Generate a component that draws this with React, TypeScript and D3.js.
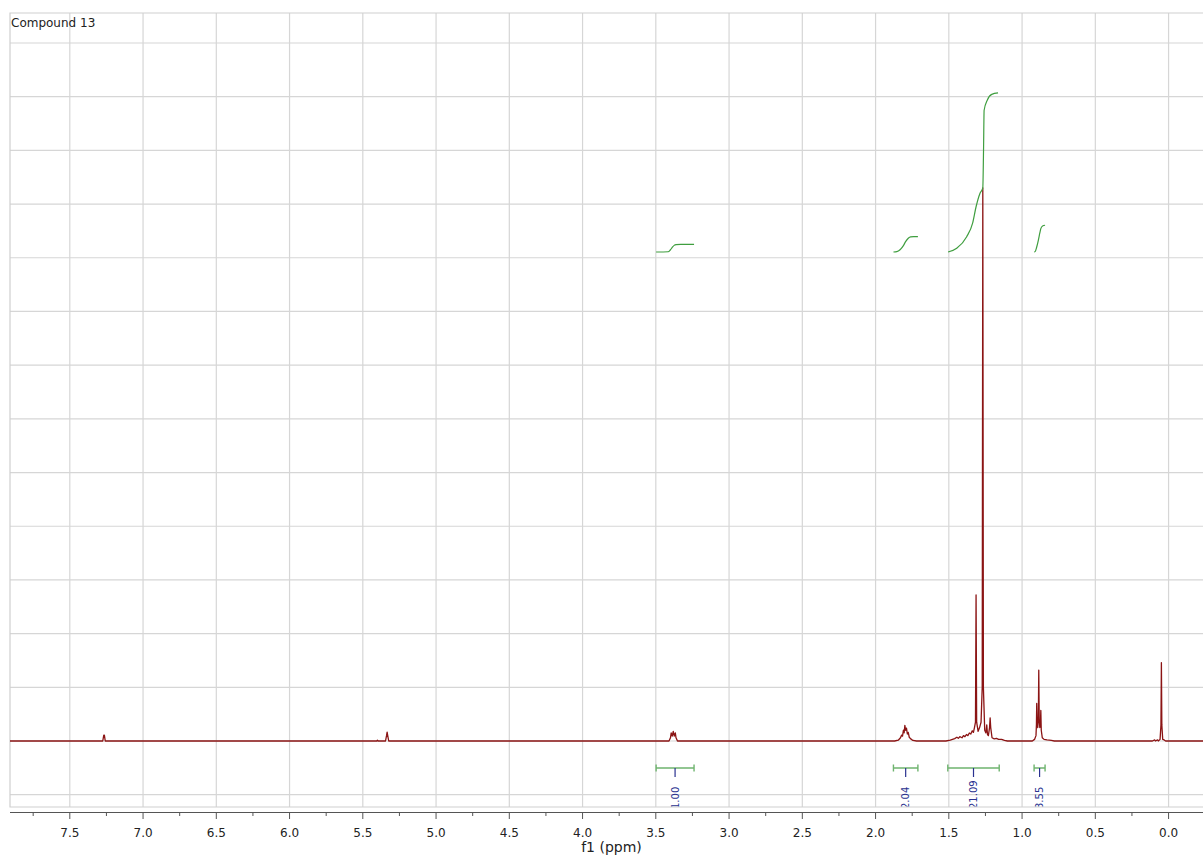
import React, { useEffect, useRef } from 'react';
import * as d3 from 'd3';

// chart texts
const title = "Compound 13";
const axisLabel = "f1 (ppm)";

// axis ticks (ppm)
const majorTicks = [7.5, 7.0, 6.5, 6.0, 5.5, 5.0, 4.5, 4.0, 3.5, 3.0, 2.5, 2.0, 1.5, 1.0, 0.5, 0.0];
const minorTicks = [7.75, 7.25, 6.75, 6.25, 5.75, 5.25, 4.75, 4.25, 3.75, 3.25, 2.75, 2.25, 1.75, 1.25, 0.75, 0.25];
const gridRows = [-10, 0, 10, 20, 30, 40, 50, 60, 70, 80, 90, 100, 110, 120, 130];

// spectrum trace, [ppm, intensity]
const spectrum: [number, number][] = [
  [7.915, 0], [7.275, 0], [7.268, 1.1], [7.264, 1.1], [7.258, 0],
  [5.405, 0], [5.4, 0.15], [5.395, 0],
  [5.345, 0], [5.338, 1.0], [5.334, 1.65], [5.33, 1.0], [5.323, 0],
  [3.41, 0], [3.4, 0.6], [3.395, 1.5], [3.388, 0.9], [3.381, 1.8], [3.374, 0.9], [3.367, 1.5], [3.362, 0.6], [3.352, 0],
  [1.87, 0], [1.845, 0.15], [1.83, 0.6], [1.822, 1.1], [1.816, 0.9], [1.81, 2.0], [1.805, 1.5], [1.8, 2.9],
  [1.795, 2.0], [1.789, 2.4], [1.783, 1.3], [1.777, 1.6], [1.77, 0.7], [1.76, 0.4], [1.745, 0.1], [1.72, 0],
  [1.52, 0], [1.49, 0.15], [1.46, 0.45], [1.445, 0.7], [1.435, 0.5], [1.425, 0.8], [1.41, 0.6], [1.4, 1.0],
  [1.39, 0.8], [1.38, 1.2], [1.37, 1.0], [1.36, 1.5], [1.35, 1.3], [1.34, 1.9], [1.332, 1.6], [1.325, 2.5],
  [1.318, 3.5], [1.314, 27.2], [1.31, 3.5], [1.3, 1.8], [1.29, 2.5], [1.28, 3.5], [1.272, 10], [1.268, 103],
  [1.264, 10], [1.255, 2.0], [1.247, 1.5], [1.241, 3.0], [1.236, 1.2], [1.23, 1.0], [1.222, 2.5], [1.218, 4.3],
  [1.214, 2.5], [1.205, 0.6], [1.19, 0.4], [1.175, 0.5], [1.16, 0.3], [1.14, 0.3], [1.12, 0.1], [1.1, 0],
  [0.93, 0], [0.915, 0.3], [0.905, 1.0], [0.902, 3.0], [0.9, 7.0], [0.897, 3.5], [0.893, 2.5], [0.889, 4],
  [0.886, 13.2], [0.883, 4], [0.879, 2.5], [0.875, 3.0], [0.872, 5.7], [0.869, 2.0], [0.862, 0.6], [0.85, 0.3],
  [0.83, 0.2], [0.8, 0.1], [0.78, 0],
  [0.11, 0], [0.095, 0.2], [0.09, 0], [0.075, 0.2], [0.07, 0], [0.058, 0.3], [0.052, 3], [0.049, 14.6],
  [0.046, 3], [0.04, 0.3], [0.03, 0.2], [0.02, 0], [-0.235, 0],
];

// integrals
const integralFrom = [3.498, 1.878, 1.507, 0.918];
const integralTo = [3.239, 1.711, 1.156, 0.843];
const integralLabels = ["1.00", "2.04", "21.09", "3.55"];
const integralCurve1: [number, number][] = [
  [3.498, 0], [3.416, 0.03], [3.4, 0.3], [3.388, 0.6], [3.375, 0.88], [3.362, 0.98], [3.33, 1.0], [3.239, 1.0],
];
const integralCurve2: [number, number][] = [
  [1.878, 0], [1.855, 0.05], [1.833, 0.3], [1.81, 0.85], [1.795, 1.37], [1.775, 1.85], [1.761, 2.0], [1.74, 2.04], [1.711, 2.04],
];
const integralCurve3: [number, number][] = [
  [1.505, 0], [1.446, 0.49], [1.378, 2.03], [1.337, 3.85], [1.314, 6.0], [1.287, 7.8], [1.268, 8.5],
  [1.263, 13.5], [1.259, 18.8], [1.237, 20.16], [1.207, 20.9], [1.164, 21.09],
];
const integralCurve4: [number, number][] = [
  [0.918, 0], [0.911, 0.05], [0.901, 0.6], [0.889, 1.55], [0.878, 2.6], [0.872, 3.1], [0.86, 3.45], [0.843, 3.55],
];
const integralCurves = [integralCurve1, integralCurve2, integralCurve3, integralCurve4];

const App = () => {
  const ref = useRef<SVGSVGElement>(null);

  useEffect(() => {
    const svg = d3.select(ref.current);
    svg.selectAll("*").remove();

    const width = 1203;
    const height = 858;
    const frame = { left: 10, top: 13, right: 1203, bottom: 807 };
    const axisY = 812.5;
    const font = "'DejaVu Sans', Verdana, sans-serif";

    svg.attr("width", width).attr("height", height);

    const x = d3.scaleLinear().domain([7.915, -0.235]).range([9, 1203]);
    const y = d3.scaleLinear().domain([0, 130]).range([741, 43]);
    const yInt = d3.scaleLinear().domain([0, 22]).range([252, 86.1]);

    const defs = svg.append("defs");
    defs.append("clipPath").attr("id", "plotClip")
      .append("rect")
      .attr("x", frame.left).attr("y", frame.top)
      .attr("width", frame.right - frame.left).attr("height", frame.bottom - frame.top);
    defs.append("clipPath").attr("id", "labelClip")
      .append("rect")
      .attr("x", frame.left).attr("y", frame.top)
      .attr("width", frame.right - frame.left).attr("height", frame.bottom - 0.5 - frame.top);

    svg.append("rect").attr("width", width).attr("height", height).attr("fill", "#fff");

    // grid
    const grid = svg.append("g").attr("stroke", "#d6d6d6").attr("stroke-width", 1.2);
    grid.selectAll("line.h")
      .data(gridRows)
      .enter()
      .append("line")
      .attr("x1", frame.left).attr("x2", frame.right)
      .attr("y1", d => y(d)).attr("y2", d => y(d));
    grid.selectAll("line.v")
      .data(majorTicks)
      .enter()
      .append("line")
      .attr("x1", d => x(d)).attr("x2", d => x(d))
      .attr("y1", frame.top).attr("y2", frame.bottom);

    // frame
    svg.append("path")
      .attr("d", `M${frame.right},${frame.top}H${frame.left}V${frame.bottom}H${frame.right}`)
      .attr("fill", "none")
      .attr("stroke", "#cfcfcf")
      .attr("stroke-width", 1.2);

    // integral brackets below the spectrum
    const brackets = svg.append("g");
    const labelLayer = svg.append("g").attr("clip-path", "url(#labelClip)");
    integralLabels.forEach((label, i) => {
      const x1 = x(integralFrom[i]);
      const x2 = x(integralTo[i]);
      const mid = (x1 + x2) / 2;
      const by = 768;
      brackets.append("path")
        .attr("d", `M${x1},${by - 3.5}V${by + 3.5}M${x1},${by}H${x2}M${x2},${by - 3.5}V${by + 3.5}`)
        .attr("fill", "none")
        .attr("stroke", "#6fb46f")
        .attr("stroke-width", 1.4);
      brackets.append("line")
        .attr("x1", mid).attr("x2", mid)
        .attr("y1", by).attr("y2", by + 9)
        .attr("stroke", "#2a3290")
        .attr("stroke-width", 1.2);
      labelLayer.append("text")
        .attr("transform", `translate(${mid + 3.6},809) rotate(-90)`)
        .attr("font-family", font)
        .attr("font-size", "10px")
        .attr("fill", "#2a3290")
        .text(label);
    });

    // spectrum
    const line = d3.line<[number, number]>()
      .x(d => x(d[0]))
      .y(d => y(d[1]));
    svg.append("path")
      .datum(spectrum)
      .attr("clip-path", "url(#plotClip)")
      .attr("d", line)
      .attr("fill", "none")
      .attr("stroke", "#8b1414")
      .attr("stroke-width", 1.3)
      .attr("stroke-linejoin", "round");

    // integral curves
    const intLine = d3.line<[number, number]>()
      .x(d => x(d[0]))
      .y(d => yInt(d[1]))
      .curve(d3.curveMonotoneX);
    svg.append("g")
      .selectAll("path")
      .data(integralCurves)
      .enter()
      .append("path")
      .attr("d", d => intLine(d))
      .attr("fill", "none")
      .attr("stroke", "#3f9e3f")
      .attr("stroke-width", 1.2);

    // axis
    const axis = svg.append("g").attr("stroke", "#555");
    axis.append("line")
      .attr("x1", frame.left).attr("x2", frame.right)
      .attr("y1", axisY).attr("y2", axisY)
      .attr("stroke-width", 1.2);
    axis.selectAll("line.major")
      .data(majorTicks)
      .enter()
      .append("line")
      .attr("x1", d => x(d)).attr("x2", d => x(d))
      .attr("y1", axisY).attr("y2", axisY + 6.5);
    axis.selectAll("line.minor")
      .data(minorTicks)
      .enter()
      .append("line")
      .attr("x1", d => x(d)).attr("x2", d => x(d))
      .attr("y1", axisY).attr("y2", axisY + 3.5);

    svg.append("g")
      .selectAll("text")
      .data(majorTicks)
      .enter()
      .append("text")
      .attr("x", d => x(d))
      .attr("y", 837)
      .attr("text-anchor", "middle")
      .attr("font-family", font)
      .attr("font-size", "12px")
      .attr("fill", "#222")
      .text(d => d3.format(".1f")(d));

    svg.append("text")
      .attr("x", 611.5)
      .attr("y", 852)
      .attr("text-anchor", "middle")
      .attr("font-family", font)
      .attr("font-size", "14px")
      .attr("fill", "#222")
      .text(axisLabel);

    svg.append("text")
      .attr("x", 11)
      .attr("y", 27)
      .attr("font-family", font)
      .attr("font-size", "12px")
      .attr("fill", "#222")
      .text(title);
  }, []);

  return <svg ref={ref} style={{ position: "absolute", left: 0, top: 0, display: "block" }}></svg>;
};

export default App;
